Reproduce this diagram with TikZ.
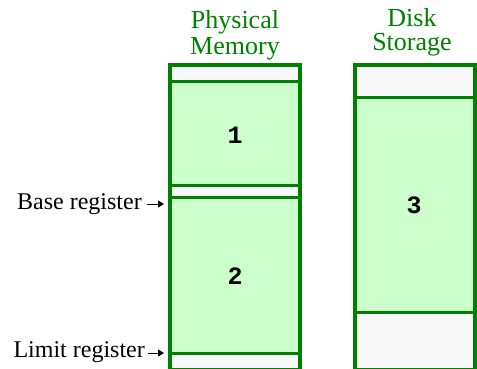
\documentclass[tikz,border=0pt]{standalone}
\usepackage{fontspec}
\setmainfont{Liberation Serif}
\newfontfamily\monofont{Liberation Mono}
\usetikzlibrary{arrows.meta}
\definecolor{bordergreen}{HTML}{008000}
\definecolor{memgreen}{HTML}{CCFFCC}
\definecolor{memwhite}{HTML}{F8F8F8}
\tikzset{
  title/.style={text=bordergreen, font=\fontsize{26}{26}\selectfont, inner sep=0pt, anchor=base},
  reglabel/.style={font=\fontsize{24}{24}\selectfont, inner sep=0pt, anchor=base east},
  seglabel/.style={font=\monofont\bfseries\fontsize{25}{25}\selectfont, inner sep=0pt},
  divider/.style={draw=bordergreen, line width=3pt},
  outer/.style={draw=bordergreen, line width=3.5pt},
  regarrow/.style={-{Triangle[length=6pt,width=7pt]}, line width=1pt, black},
}
\begin{document}
\begin{tikzpicture}[x=1pt,y=-1pt]
\useasboundingbox (0,0) rectangle (477,368);
% physical memory fills
\fill[memwhite] (170,65) rectangle (300,81.5);
\fill[memgreen] (170,81.5) rectangle (300,185.5);
\fill[memwhite] (170,185.5) rectangle (300,197.5);
\fill[memgreen] (170,197.5) rectangle (300,353.5);
\fill[memwhite] (170,353.5) rectangle (300,370);
\draw[divider] (170,81.5) -- (300,81.5);
\draw[divider] (170,185.5) -- (300,185.5);
\draw[divider] (170,197.5) -- (300,197.5);
\draw[divider] (170,353.5) -- (300,353.5);
\draw[outer] (170,369.5) rectangle (300,65);
% disk storage fills
\fill[memwhite] (355,65) rectangle (475,97);
\fill[memgreen] (355,97) rectangle (475,312.5);
\fill[memwhite] (355,312.5) rectangle (475,370);
\draw[divider] (355,97) -- (475,97);
\draw[divider] (355,312.5) -- (475,312.5);
\draw[outer] (355,369.5) rectangle (475,65);
% titles
\node[title] (phys1) at (235,28) {Physical};
\node[title] (phys2) at (235,54) {Memory};
\node[title] (disk1) at (412,26) {Disk};
\node[title] (disk2) at (412,50) {Storage};
% segment labels
\node[seglabel] (s1) at (235,135) {1};
\node[seglabel] (s2) at (235,276) {2};
\node[seglabel] (s3) at (414,205) {3};
% register labels
\node[reglabel] (base) at (142,209) {Base register};
\node[reglabel] (limit) at (145,357) {Limit register};
\coordinate (basetip) at (164,204);
\coordinate (limittip) at (164,353);
\draw[regarrow] (base.east |- basetip) ++(5,0) -- (basetip);
\draw[regarrow] (limit.east |- limittip) ++(3,0) -- (limittip);
\end{tikzpicture}
\end{document}
